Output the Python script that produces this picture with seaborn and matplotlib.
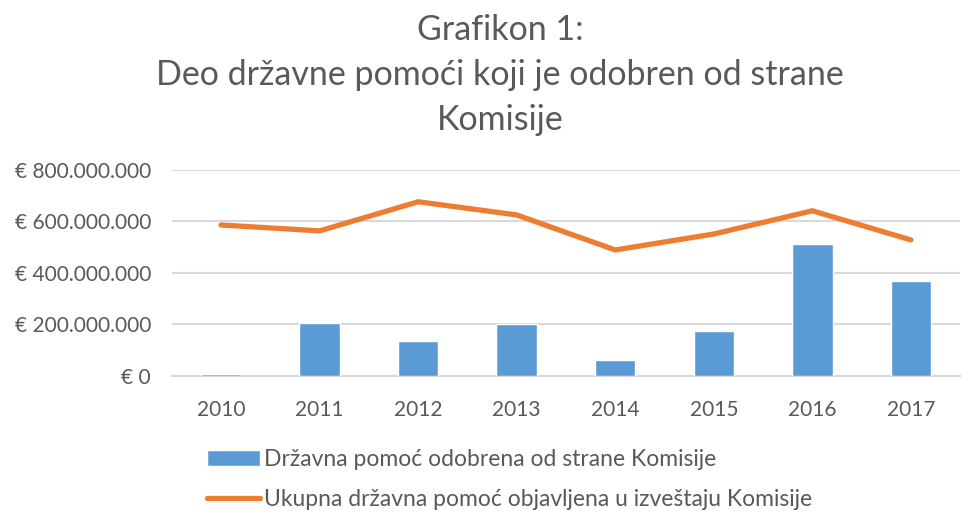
import numpy as np
import pandas as pd
import matplotlib
matplotlib.use('Agg')
import matplotlib.pyplot as plt
import seaborn as sns
from matplotlib.ticker import FuncFormatter

# Data
years = ['2010', '2011', '2012', '2013', '2014', '2015', '2016', '2017']
approved = [6e6, 205e6, 135e6, 200e6, 62e6, 175e6, 512e6, 368e6]
total_reported = [586e6, 563e6, 676e6, 625e6, 489e6, 551e6, 641e6, 528e6]

bar_label = 'Državna pomoć odobrena od strane Komisije'
line_label = 'Ukupna državna pomoć objavljena u izveštaju Komisije'
title = 'Grafikon 1:\nDeo državne pomoći koji je odobren od strane\nKomisije'

sns.set_theme(style='white')
plt.rcParams['font.family'] = ['Lato', 'DejaVu Sans']
text_color = '#595959'

df = pd.DataFrame({'Year': years, 'Approved': approved,
                   'Total': total_reported, 'pos': np.arange(len(years))})

fig = plt.figure(figsize=(9.65, 5.13), dpi=100)
ax = fig.add_axes([0.178, 0.267, 0.817, 0.402])

sns.barplot(data=df, x='Year', y='Approved', color='#5B9BD5', width=0.41,
            saturation=1, ax=ax, label=bar_label, zorder=3)
sns.lineplot(data=df, x='pos', y='Total', color='#ED7D31', linewidth=3.8,
             ax=ax, label=line_label, zorder=4, solid_capstyle='round')

ax.set_xlim(-0.5, len(years) - 0.5)
ax.set_ylim(0, 800e6)
ax.set_yticks(np.arange(0, 800e6 + 1, 200e6))
ax.yaxis.set_major_formatter(FuncFormatter(lambda v, p: f'€ {v:,.0f}'.replace(',', '.')))
ax.grid(axis='y', color='#D9D9D9', linewidth=1.5, zorder=0)
ax.set_axisbelow(True)
for s in ['top', 'right', 'left']:
    ax.spines[s].set_visible(False)
ax.spines['bottom'].set_color('#D9D9D9')
ax.spines['bottom'].set_linewidth(1.5)
ax.tick_params(axis='both', length=0, labelsize=15, colors=text_color)
ax.tick_params(axis='y', pad=15)
ax.tick_params(axis='x', pad=17)
ax.set_xlabel('')
ax.set_ylabel('')

ax.legend_.remove()
handles, labels = ax.get_legend_handles_labels()
order = [labels.index(bar_label), labels.index(line_label)]
leg = fig.legend([handles[i] for i in order], [labels[i] for i in order],
                 loc='upper left', bbox_to_anchor=(0.215, 0.125),
                 frameon=False, fontsize=16.5, handlelength=2.3, handletextpad=0.15,
                 labelspacing=0.85, borderaxespad=0, borderpad=0)
for t in leg.get_texts():
    t.set_color(text_color)

fig.text(0.518, 0.972, title, ha='center', va='top', fontsize=24.5,
         color=text_color, linespacing=1.5)

fig.savefig('out.png', dpi=100)
